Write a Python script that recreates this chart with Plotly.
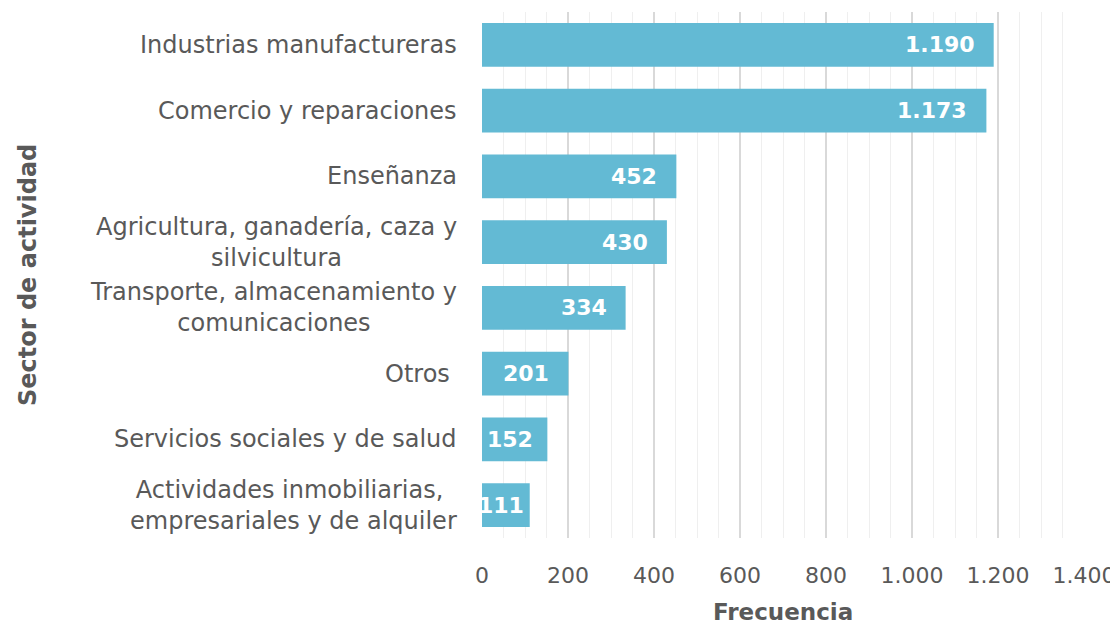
import plotly.graph_objects as go

sectores = [
    "Industrias manufactureras",
    "Comercio y reparaciones",
    "Enseñanza",
    "Agricultura, ganadería, caza y<br>silvicultura",
    "Transporte, almacenamiento y<br>comunicaciones",
    "Otros ",
    "Servicios sociales y de salud",
    "Actividades inmobiliarias, <br>empresariales y de alquiler",
]
frecuencia = [1190, 1173, 452, 430, 334, 201, 152, 111]
etiquetas = ["1.190", "1.173", "452", "430", "334", "201", "152", "111"]

FONT = "DejaVu Sans"
GRAY = "#595959"
BAR = "#63BAD4"
PX_PER_UNIT = 602 / 1400

fig = go.Figure()
fig.add_trace(go.Bar(
    y=list(range(len(sectores))),
    x=frecuencia,
    orientation="h",
    marker=dict(color=BAR, line=dict(width=0)),
    width=0.667,
    hoverinfo="skip",
))

annotations = []
for i, (s, v, t) in enumerate(zip(sectores, frecuencia, etiquetas)):
    annotations.append(dict(
        x=0, y=i, xref="x", yref="y", text=s, showarrow=False,
        xanchor="right", align="center", xshift=-23,
        font=dict(family=FONT, size=24, color=GRAY),
    ))
    # inside-end label, pulled closer to the edge on short bars
    bar_px = v * PX_PER_UNIT
    text_px = 13.5 * len(t)
    pad = min(17, max(1, (bar_px - text_px) / 2))
    annotations.append(dict(
        x=v, y=i, xref="x", yref="y", text=f"<b>{t}</b>", showarrow=False,
        xanchor="right", xshift=-pad,
        font=dict(family=FONT, size=22, color="white"),
    ))
annotations.append(dict(
    x=0.5, y=0, xref="paper", yref="paper", text="<b>Frecuencia</b>",
    showarrow=False, xanchor="center", yanchor="middle", yshift=-74,
    font=dict(family=FONT, size=23, color=GRAY),
))
annotations.append(dict(
    x=0, y=0.5, xref="paper", yref="paper", xshift=-474 + 20,
    text="<b>Sector de actividad</b>", showarrow=False, textangle=-90,
    xanchor="center", yanchor="middle",
    font=dict(family=FONT, size=24, color=GRAY),
))

# the page body adds an 8px offset at top/left, so shrink the figure to match
fig.update_layout(
    width=1110, height=616,
    margin=dict(l=474, r=34, t=4, b=86, autoexpand=False),
    plot_bgcolor="white", paper_bgcolor="white",
    separators=",.",
    showlegend=False,
    annotations=annotations,
    xaxis=dict(
        range=[0, 1400], dtick=200, tickformat=",d",
        showgrid=True, gridcolor="#d9d9d9", gridwidth=1.5,
        minor=dict(dtick=50, showgrid=True, gridcolor="#efefef", gridwidth=1),
        zeroline=False, showline=False, automargin=False,
        ticklabelstandoff=22, ticklabeloverflow="allow",
        tickfont=dict(family=FONT, size=22, color=GRAY),
    ),
    yaxis=dict(
        range=[len(sectores) - 0.5, -0.5], automargin=False,
        showticklabels=False, showgrid=False, zeroline=False,
    ),
)

fig.write_html("out.html")
